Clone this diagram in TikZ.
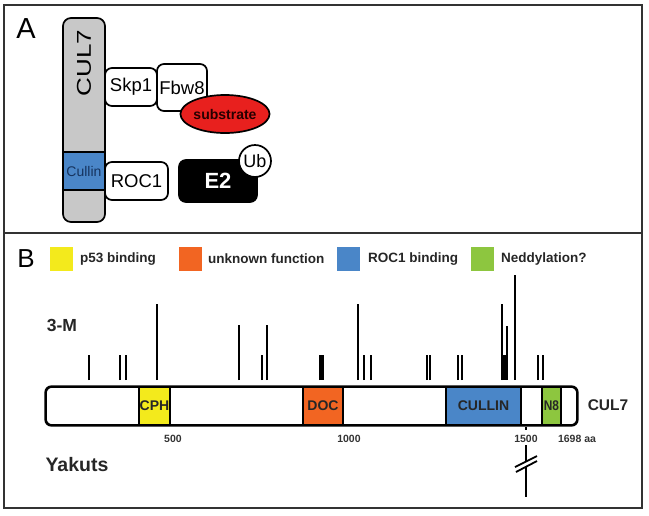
\documentclass[tikz,border=0pt]{standalone}
\usepackage{fontspec}
\setmainfont{Liberation Sans}
\usetikzlibrary{shapes.geometric}
\definecolor{cgray}{HTML}{C8C8C8}
\definecolor{cblue}{HTML}{4A86C8}
\definecolor{cyel}{HTML}{F3EA1C}
\definecolor{corange}{HTML}{F26522}
\definecolor{cgreen}{HTML}{8DC63F}
\definecolor{cred}{HTML}{E8201E}
\definecolor{cnavy}{HTML}{16335E}
\definecolor{frame}{HTML}{333333}
\newcommand{\fs}[1]{\fontsize{#1}{#1}\selectfont}
\tikzset{
  box/.style={draw=black, line width=1.7pt, rounded corners=7pt, fill=white, inner sep=0pt, outer sep=0pt},
  dom/.style={draw=black, line width=1.5pt, inner sep=0pt, outer sep=0pt, minimum height=38pt, font=\fs{14}\bfseries, text=black!85},
  legsq/.style={inner sep=0pt, minimum width=23pt, minimum height=24pt},
  legtxt/.style={anchor=west, inner sep=0pt, font=\fs{13.5}\bfseries, text=black!85},
  mut/.style={line width=2.1pt},
  scl/.style={font=\fs{10.5}\bfseries, text=black!80, inner sep=0pt}
}
\begin{document}
\begin{tikzpicture}[x=1pt, y=-1pt]
\useasboundingbox (0,0) rectangle (649,515);
% frame
\draw[frame, line width=1.6pt] (4,5) rectangle (642,508);
\draw[frame, line width=1.6pt] (4,233) -- (642,233);
% ---------- Panel A
\node[inner sep=0pt, font=\fs{29}] (lblA) at (26,29) {A};
\node[box, fill=cgray, minimum width=42pt, minimum height=204pt, rounded corners=8pt] (cul7) at (84,120) {};
\node[draw=black, line width=1.7pt, fill=cblue, minimum width=42pt, minimum height=38pt, inner sep=0pt, font=\fs{14}, text=cnavy] (cullinA) at (84,171) {Cullin};
\node[rotate=90, inner sep=0pt, font=\fs{20}] (cul7txt) at (84,63) {\scalebox{1.3}[1]{CUL7}};
\node[box, minimum width=52pt, minimum height=38pt, font=\fs{18.5}] (skp1) at (131,87) {Skp1};
\node[box, minimum width=50pt, minimum height=47pt, font=\fs{18.5}] (fbw8) at (182,87.5) {Fbw8};
\node[ellipse, draw=black, line width=1.7pt, fill=cred, minimum width=76pt, minimum height=38pt, inner sep=0pt, font=\fs{14}\bfseries, text=black!85!red] (substrate) at (225,114) {substrate};
\node[box, minimum width=63pt, minimum height=38pt, font=\fs{18.5}] (roc1) at (136.5,181) {ROC1};
\node[box, fill=black, minimum width=78pt, minimum height=42pt, font=\fs{22}\bfseries, text=white] (e2) at (218,181) {E2};
\node[circle, draw=black, line width=1.7pt, fill=white, minimum size=32pt, inner sep=0pt, font=\fs{18}] (ub) at (255,161) {Ub};
% ---------- Panel B
\node[inner sep=0pt, font=\fs{26}] (lblB) at (26,259) {B};
\node[legsq, fill=cyel] (lg1) at (61.5,259) {};
\node[legtxt] (lt1) at (80,259) {p53 binding};
\node[legsq, fill=corange] (lg2) at (190,259) {};
\node[legtxt] (lt2) at (208,259) {unknown function};
\node[legsq, fill=cblue] (lg3) at (348,259) {};
\node[legtxt] (lt3) at (368,259) {ROC1 binding};
\node[legsq, fill=cgreen] (lg4) at (482,259) {};
\node[legtxt] (lt4) at (501,259) {Neddylation?};
\node[inner sep=0pt, font=\fs{17.5}\bfseries, text=black!85] (threeM) at (62,325) {3-M};
\node[inner sep=0pt, font=\fs{19.5}\bfseries, text=black!85] (yakuts) at (77,465) {Yakuts};
% protein bar
\node[draw=black, line width=1.6pt, fill=white, rounded corners=6pt, minimum width=531pt, minimum height=38pt, inner sep=0pt] (bar) at (311.5,406) {};
\node[dom, fill=cyel, minimum width=31pt] (cph) at (154.5,406) {CPH};
\node[dom, fill=corange, minimum width=40pt] (doc) at (323,406) {DOC};
\node[dom, fill=cblue, minimum width=75pt] (cullinB) at (483.5,406) {CULLIN};
\node[dom, fill=cgreen, minimum width=19pt] (n8) at (551.5,406) {\scalebox{0.85}[1]{N8}};
\draw[black, line width=1.6pt, rounded corners=6pt] (bar.north west) rectangle (bar.south east);
\node[inner sep=0pt, font=\fs{15.5}\bfseries, text=black!85] (cul7B) at (608,405) {CUL7};
% scale
\node[scl] (s500) at (173,439) {500};
\node[scl] (s1000) at (349,439) {1000};
\node[scl] (s1500) at (526,439) {1500};
\node[scl] (s1698) at (577,439) {1698 aa};
\draw[line width=1.6pt] (526,427) -- (526,430);
% mutations
\foreach \x/\t in {89.3/355, 120/355, 126/355, 157.3/304, 239/325, 261.7/355, 267.3/325,
  358.3/304, 364.3/355, 371/355, 426.7/355, 430/355, 458.3/355, 462.3/355,
  502.3/304, 507.3/326, 515/275, 538.3/355, 543.3/355}
  \draw[mut] (\x,380) -- (\x,\t);
\draw[line width=4.5pt] (321.7,380) -- (321.7,355);
\draw[line width=4.5pt] (504,380) -- (504,355);
% Yakuts break
\coordinate (ytop) at (526,445);
\coordinate (ybot) at (526,497);
\draw[line width=2pt] (ytop) -- (526,461);
\draw[line width=2pt] (526,466) -- (ybot);
\draw[line width=1.8pt] (515,467) -- (537,456);
\draw[line width=1.8pt] (516,472) -- (537,461);
\end{tikzpicture}
\end{document}
